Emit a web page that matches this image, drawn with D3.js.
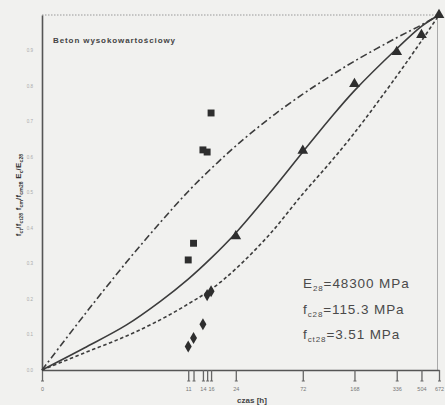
<!DOCTYPE html>
<html>
<head>
<meta charset="utf-8">
<script src="https://cdn.jsdelivr.net/npm/d3@7"></script>
<style>
  body { margin: 0; background: #f1f1ef; }
  svg { display: block; font-family: "Liberation Sans", Arial, sans-serif; }
</style>
</head>
<body>
<svg id="chart" width="445" height="405"></svg>
<script>
// wiek betonu [h], wartosci wzgledne
var curveAge = [1, 2, 4, 7, 11, 16, 24, 42, 72, 112, 168, 336, 504, 672];
var curveFcm = [0, 0.062, 0.127, 0.194, 0.256, 0.315, 0.386, 0.499, 0.614, 0.707, 0.787, 0.905, 0.968, 1];
var curveEc  = [0, 0.155, 0.304, 0.417, 0.503, 0.567, 0.631, 0.710, 0.777, 0.827, 0.870, 0.936, 0.972, 1];
var curveFct = [0, 0.048, 0.096, 0.142, 0.186, 0.227, 0.285, 0.383, 0.496, 0.583, 0.668, 0.828, 0.927, 1];

var squareAge = [11, 12, 14, 15, 16];
var squareVal = [0.310, 0.357, 0.620, 0.614, 0.724];
var triangleAge = [24, 72, 168, 336, 504, 672];
var triangleVal = [0.377, 0.618, 0.806, 0.896, 0.944, 1.0];
var diamondAge = [11, 12, 14, 15, 16];
var diamondVal = [0.066, 0.090, 0.129, 0.211, 0.222];

var xTicks = [1, 11, 12, 14, 15, 16, 24, 72, 168, 336, 504, 672];
var xTickLabels = ["0", "11", "", "14", "", "16", "24", "72", "168", "336", "504", "672"];
var yTicks = [0, 0.1, 0.2, 0.3, 0.4, 0.5, 0.6, 0.7, 0.8, 0.9];

var svg = d3.select("#chart");

var x = d3.scaleLog().domain([1, 672]).range([42, 439]),
    y = d3.scaleLinear().domain([0, 1]).range([370, 15]);

// ramka
svg.append("line")
    .attr("x1", 42).attr("x2", 437).attr("y1", 15).attr("y2", 15)
    .attr("stroke", "#999").attr("stroke-width", 1).attr("stroke-dasharray", "1.5,1.5");
svg.append("line")
    .attr("x1", 437.5).attr("x2", 437.5).attr("y1", 15).attr("y2", 370)
    .attr("stroke", "#aaa").attr("stroke-width", 1);

// os x
var xAxis = svg.append("g")
    .attr("transform", "translate(0,370)")
    .call(d3.axisBottom(x)
        .tickValues(xTicks)
        .tickSize(11)
        .tickSizeOuter(0)
        .tickPadding(6)
        .tickFormat(function (d, i) { return xTickLabels[i]; }));
xAxis.select(".domain").attr("stroke", "#555").attr("stroke-width", 1.6);
xAxis.selectAll(".tick line").attr("stroke", "#666").attr("stroke-width", 1.3);
xAxis.selectAll(".tick").append("line")
    .attr("x1", -1.5).attr("x2", 1.5).attr("y1", 11).attr("y2", 11)
    .attr("stroke", "#666");
xAxis.selectAll(".tick text")
    .attr("font-size", 5.5).attr("fill", "#777").attr("font-family", "Liberation Sans, Arial, sans-serif");

// os y
var yAxis = svg.append("g")
    .attr("transform", "translate(42,0)")
    .call(d3.axisLeft(y)
        .tickValues(yTicks)
        .tickSize(0)
        .tickPadding(9)
        .tickFormat(d3.format(".1f")));
yAxis.select(".domain").attr("stroke", "#555").attr("stroke-width", 1.6);
yAxis.selectAll(".tick text")
    .attr("font-size", 4.5).attr("fill", "#aaa").attr("font-family", "Liberation Sans, Arial, sans-serif");

// krzywe
function curve(vals, dash) {
  var line = d3.line()
      .x(function (d, i) { return x(curveAge[i]); })
      .y(function (d) { return y(d); })
      .curve(d3.curveCatmullRom.alpha(0.5));
  svg.append("path")
      .datum(vals)
      .attr("d", line)
      .attr("fill", "none")
      .attr("stroke", "#3c3c3c")
      .attr("stroke-width", 1.6)
      .attr("stroke-dasharray", dash);
}
curve(curveEc, "7,3,2,3");
curve(curveFct, "3.5,2.5");
curve(curveFcm, null);

// punkty pomiarowe
function points(ages, vals, type, size) {
  svg.selectAll(null)
      .data(vals)
      .enter().append("path")
      .attr("transform", function (d, i) { return "translate(" + x(ages[i]) + "," + y(d) + ")"; })
      .attr("d", d3.symbol().type(type).size(size))
      .attr("fill", "#2e2e2e");
}
points(squareAge, squareVal, d3.symbolSquare, 48);
points(triangleAge, triangleVal, d3.symbolTriangle, 50);
points(diamondAge, diamondVal, d3.symbolDiamond, 42);

// teksty z indeksami dolnymi
function subText(g, parts, subSize, shift) {
  parts.forEach(function (p, i) {
    var t = g.append("tspan").text(p);
    if (i % 2 === 1) t.attr("font-size", subSize).attr("dy", shift);
    else if (i > 0) t.attr("dy", -shift);
  });
}

svg.append("text")
    .attr("x", 53).attr("y", 43)
    .attr("font-size", 8).attr("font-weight", "bold")
    .attr("letter-spacing", 0.9).attr("fill", "#444")
    .text("Beton wysokowartościowy");

var ylab = svg.append("text")
    .attr("transform", "translate(21,195) rotate(-90)")
    .attr("text-anchor", "middle")
    .attr("font-size", 7.8).attr("font-weight", "bold")
    .attr("fill", "#333").attr("letter-spacing", 0.2);
subText(ylab, ["f", "ct", "/f", "ct28", "  f", "cm", "/f", "cm28", "  E", "c", "/E", "c28"], 5, 2.3);

var notes = [["E", "28", "=48300 MPa"], ["f", "c28", "=115.3 MPa"], ["f", "ct28", "=3.51 MPa"]];
notes.forEach(function (n, i) {
  var t = svg.append("text")
      .attr("x", 303).attr("y", 288 + i * 25.5)
      .attr("font-size", 13.5).attr("fill", "#4a4a4a")
      .attr("letter-spacing", 0.9);
  subText(t, n, 8, 3);
});

svg.append("text")
    .attr("x", 252).attr("y", 403)
    .attr("text-anchor", "middle")
    .attr("font-size", 8).attr("font-weight", "bold").attr("fill", "#444")
    .text("czas [h]");
</script>
</body>
</html>
